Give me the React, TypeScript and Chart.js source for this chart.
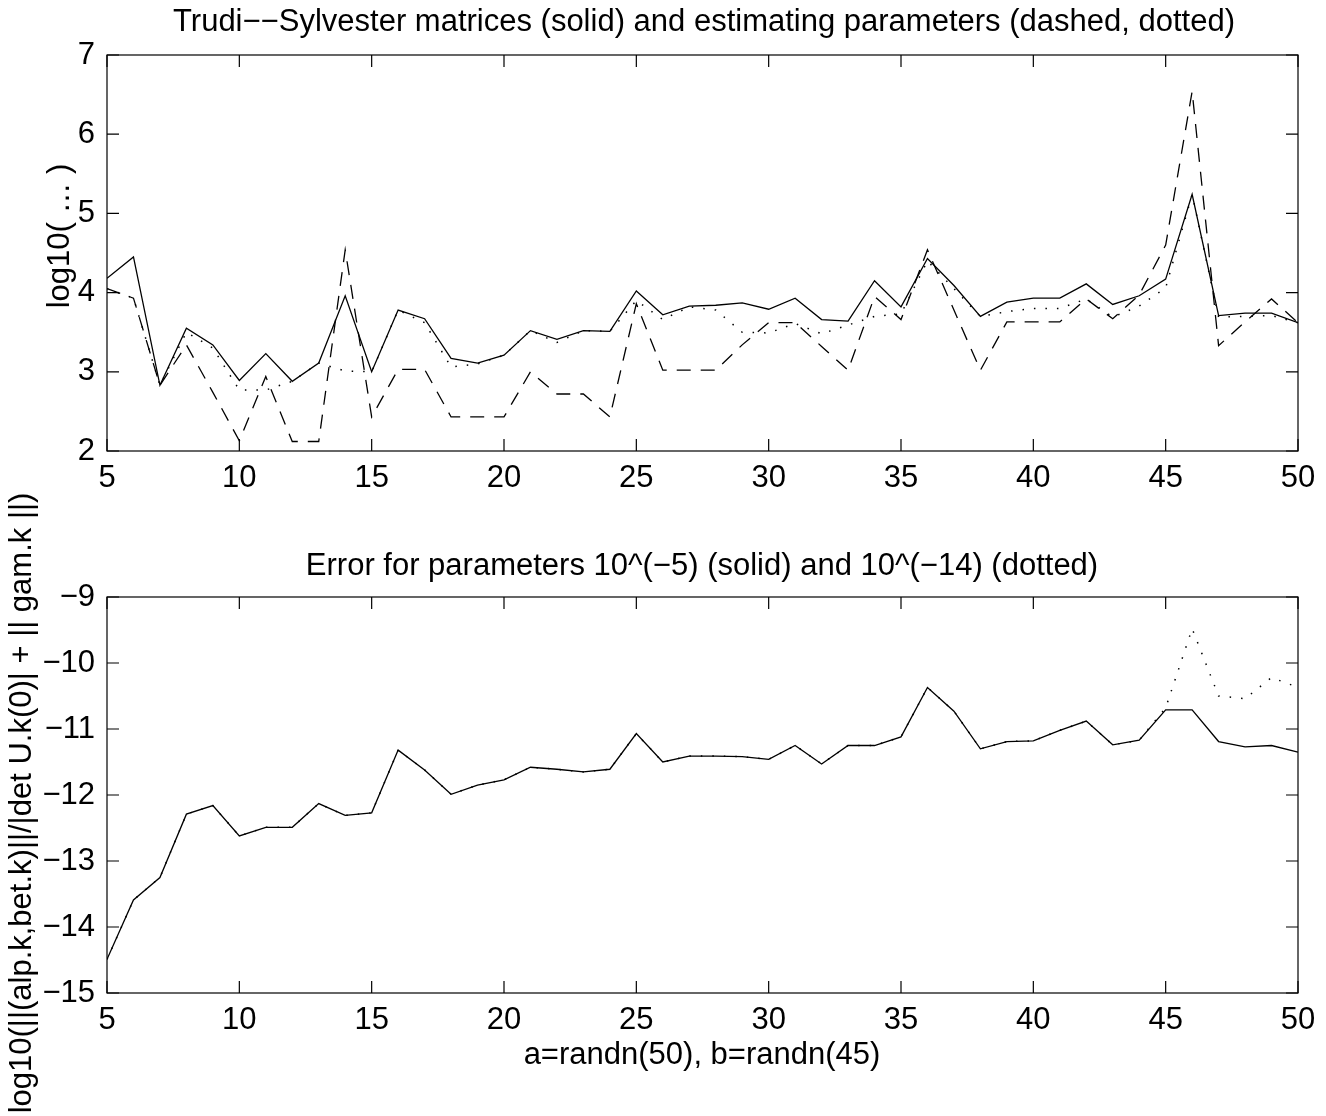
import React, { useEffect, useRef } from "react";
import { Chart, registerables } from "chart.js";

Chart.register(...registerables);

const nValues = [5, 6, 7, 8, 9, 10, 11, 12, 13, 14, 15, 16, 17, 18, 19, 20, 21, 22, 23, 24, 25, 26, 27, 28, 29, 30, 31, 32, 33, 34, 35, 36, 37, 38, 39, 40, 41, 42, 43, 44, 45, 46, 47, 48, 49, 50];

const topSolid = [4.18, 4.45, 2.83, 3.55, 3.34, 2.89, 3.23, 2.88, 3.11, 3.96, 3.0, 3.78, 3.67, 3.17, 3.11, 3.21, 3.52, 3.41, 3.52, 3.51, 4.02, 3.72, 3.83, 3.84, 3.87, 3.79, 3.93, 3.66, 3.64, 4.15, 3.82, 4.43, 4.09, 3.7, 3.88, 3.93, 3.93, 4.11, 3.85, 3.96, 4.17, 5.24, 3.71, 3.74, 3.74, 3.62];

const topDashed = [4.05, 3.93, 2.83, 3.34, 2.74, 2.13, 2.94, 2.12, 2.12, 4.54, 2.43, 3.03, 3.03, 2.43, 2.43, 2.43, 3.0, 2.72, 2.72, 2.43, 3.86, 3.02, 3.02, 3.02, 3.34, 3.62, 3.62, 3.32, 3.02, 3.95, 3.66, 4.54, 3.78, 3.02, 3.63, 3.63, 3.63, 3.92, 3.67, 3.97, 4.6, 6.54, 3.33, 3.63, 3.92, 3.62];

const topDotted = [4.05, 3.93, 2.83, 3.5, 3.3, 2.77, 2.77, 2.88, 3.11, 3.01, 3.0, 3.78, 3.62, 3.06, 3.1, 3.21, 3.52, 3.37, 3.52, 3.51, 3.9, 3.66, 3.82, 3.78, 3.5, 3.49, 3.61, 3.48, 3.59, 3.7, 3.73, 4.4, 4.05, 3.7, 3.76, 3.8, 3.8, 3.92, 3.69, 3.83, 4.06, 5.24, 3.69, 3.7, 3.71, 3.62];

const bottomSolid = [-14.49, -13.59, -13.25, -12.29, -12.16, -12.62, -12.49, -12.49, -12.13, -12.31, -12.27, -11.32, -11.62, -11.99, -11.85, -11.77, -11.58, -11.61, -11.65, -11.61, -11.07, -11.5, -11.41, -11.41, -11.42, -11.46, -11.25, -11.53, -11.25, -11.25, -11.12, -10.37, -10.73, -11.3, -11.19, -11.18, -11.02, -10.88, -11.24, -11.17, -10.71, -10.71, -11.19, -11.27, -11.25, -11.35];

const bottomDotted = [-14.49, -13.59, -13.25, -12.29, -12.16, -12.62, -12.49, -12.49, -12.13, -12.31, -12.27, -11.32, -11.62, -11.99, -11.85, -11.77, -11.58, -11.61, -11.65, -11.61, -11.07, -11.5, -11.41, -11.41, -11.42, -11.46, -11.25, -11.53, -11.25, -11.25, -11.12, -10.37, -10.73, -11.3, -11.19, -11.18, -11.02, -10.88, -11.24, -11.17, -10.68, -9.48, -10.5, -10.54, -10.22, -10.37];

const xTicks = [5, 10, 15, 20, 25, 30, 35, 40, 45, 50];
const topYTicks = [2, 3, 4, 5, 6, 7];
const bottomYTicks = [-15, -14, -13, -12, -11, -10, -9];

const topTitle = "Trudi\u2212\u2212Sylvester matrices (solid) and estimating parameters (dashed, dotted)";
const topYLabel = "log10( \u2026 )";
const bottomTitle = "Error for parameters 10^(\u22125) (solid) and 10^(\u221214) (dotted)";
const bottomYLabel = "log10(||(alp.k,bet.k)||/|det U.k(0)| + || gam.k ||)";
const xLabel = "a=randn(50), b=randn(45)";

const W = 1326;
const H = 1116;
const FONT = "'Liberation Sans', Arial, Helvetica, sans-serif";
const TICK_SIZE = 31;
const TEXT_SIZE = 31;

const fmt = (v: number) => (v < 0 ? "\u2212" + Math.abs(v) : String(v));

function pts(ys: number[]) {
  return nValues.map((x, i) => ({ x, y: ys[i] }));
}

type TextItem = { text: string; x: number; y: number; rotate?: boolean };

function makeBoxPlugin(texts: TextItem[]) {
  return {
    id: "matlabBox",
    afterDraw(chart: any) {
      const { ctx, chartArea } = chart;
      const xs = chart.scales.x;
      const ys = chart.scales.y;
      ctx.save();
      ctx.strokeStyle = "#000";
      ctx.lineWidth = 1.2;
      ctx.strokeRect(chartArea.left, chartArea.top, chartArea.right - chartArea.left, chartArea.bottom - chartArea.top);
      const tl = 12;
      ctx.beginPath();
      xs.ticks.forEach((t: any) => {
        const px = xs.getPixelForValue(t.value);
        ctx.moveTo(px, chartArea.bottom);
        ctx.lineTo(px, chartArea.bottom - tl);
        ctx.moveTo(px, chartArea.top);
        ctx.lineTo(px, chartArea.top + tl);
      });
      ys.ticks.forEach((t: any) => {
        const py = ys.getPixelForValue(t.value);
        ctx.moveTo(chartArea.left, py);
        ctx.lineTo(chartArea.left + tl, py);
        ctx.moveTo(chartArea.right, py);
        ctx.lineTo(chartArea.right - tl, py);
      });
      ctx.stroke();
      ctx.fillStyle = "#000";
      ctx.font = `${TEXT_SIZE}px ${FONT}`;
      ctx.textAlign = "center";
      ctx.textBaseline = "middle";
      texts.forEach((t) => {
        if (t.rotate) {
          ctx.save();
          ctx.translate(t.x, t.y);
          ctx.rotate(-Math.PI / 2);
          ctx.fillText(t.text, 0, 0);
          ctx.restore();
        } else {
          ctx.fillText(t.text, t.x, t.y);
        }
      });
      ctx.restore();
    },
  };
}

function buildConfig(opts: {
  datasets: any[];
  yMin: number;
  yMax: number;
  yTicks: number[];
  top: number;
  bottom: number;
  texts: TextItem[];
}) {
  return {
    type: "line" as const,
    data: { datasets: opts.datasets },
    options: {
      animation: false as const,
      responsive: false,
      maintainAspectRatio: false,
      layout: { padding: { left: 0, right: W - 1298, top: opts.top, bottom: 0 } },
      plugins: { legend: { display: false }, tooltip: { enabled: false } },
      elements: { point: { radius: 0 }, line: { tension: 0 } },
      scales: {
        x: {
          type: "linear" as const,
          min: 5,
          max: 50,
          afterBuildTicks: (s: any) => {
            s.ticks = xTicks.map((v) => ({ value: v }));
          },
          afterFit: (s: any) => {
            s.height = H - opts.bottom;
          },
          ticks: {
            color: "#000",
            font: { family: FONT, size: TICK_SIZE },
            padding: 9,
            maxRotation: 0,
            autoSkip: false,
            callback: (v: any) => fmt(Number(v)),
          },
          grid: { display: false, drawTicks: false },
          border: { display: false },
        },
        y: {
          type: "linear" as const,
          min: opts.yMin,
          max: opts.yMax,
          afterBuildTicks: (s: any) => {
            s.ticks = opts.yTicks.map((v) => ({ value: v }));
          },
          afterFit: (s: any) => {
            s.width = 107;
          },
          ticks: {
            color: "#000",
            font: { family: FONT, size: TICK_SIZE },
            padding: 12,
            autoSkip: false,
            callback: (v: any) => fmt(Number(v)),
          },
          grid: { display: false, drawTicks: false },
          border: { display: false },
        },
      },
    },
    plugins: [makeBoxPlugin(opts.texts)],
  };
}

const lineBase = { borderColor: "#000", borderWidth: 1.3, pointRadius: 0, fill: false };

export default function App() {
  const topRef = useRef<HTMLCanvasElement>(null);
  const botRef = useRef<HTMLCanvasElement>(null);

  useEffect(() => {
    const c1 = new Chart(
      topRef.current!,
      buildConfig({
        datasets: [
          { ...lineBase, data: pts(topDotted), borderDash: [1.5, 10], borderWidth: 1.5 },
          { ...lineBase, data: pts(topDashed), borderDash: [14, 10] },
          { ...lineBase, data: pts(topSolid) },
        ],
        yMin: 2,
        yMax: 7,
        yTicks: topYTicks,
        top: 55,
        bottom: 451,
        texts: [
          { text: topTitle, x: 704, y: 22 },
          { text: topYLabel, x: 60, y: 236, rotate: true },
        ],
      }) as any
    );
    const c2 = new Chart(
      botRef.current!,
      buildConfig({
        datasets: [
          { ...lineBase, data: pts(bottomDotted), borderDash: [1.5, 10], borderWidth: 1.5 },
          { ...lineBase, data: pts(bottomSolid) },
        ],
        yMin: -15,
        yMax: -9,
        yTicks: bottomYTicks,
        top: 597,
        bottom: 993,
        texts: [
          { text: bottomTitle, x: 702, y: 566 },
          { text: xLabel, x: 702, y: 1055 },
          { text: bottomYLabel, x: 22, y: 803, rotate: true },
        ],
      }) as any
    );
    return () => {
      c1.destroy();
      c2.destroy();
    };
  }, []);

  const cs: React.CSSProperties = { position: "absolute", left: 0, top: 0, width: W, height: H };
  return (
    <div style={{ position: "absolute", left: 0, top: 0, width: W, height: H, background: "#fff" }}>
      <canvas ref={topRef} width={W} height={H} style={cs} />
      <canvas ref={botRef} width={W} height={H} style={cs} />
    </div>
  );
}
